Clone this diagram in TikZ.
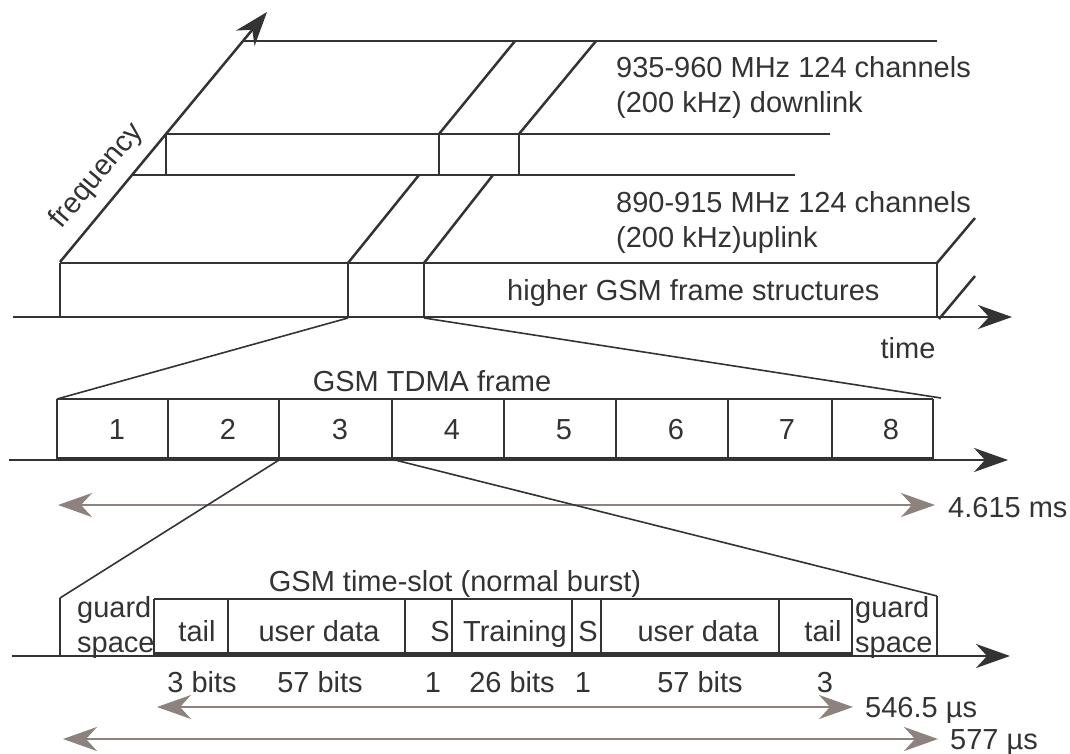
\documentclass[tikz,border=0pt]{standalone}
\usepackage{fontspec}
\setmainfont{Liberation Sans}
\usetikzlibrary{arrows.meta}
\definecolor{ink}{HTML}{333333}
\definecolor{span}{HTML}{8E827E}
\begin{document}
\begin{tikzpicture}[x=1pt,y=-1pt,
  edge/.style={draw=ink,line width=2.5pt},
  cell/.style={draw=ink,line width=2pt},
  zoomline/.style={draw=ink,line width=1.6pt},
  floor/.style={draw=ink,line width=4pt},
  axis/.style={draw=ink,line width=2.5pt,-{Stealth[length=34pt,width=24pt,inset=11pt]}},
  dim/.style={draw=span,line width=2.5pt,{Stealth[length=34pt,width=24pt,inset=11pt]}-{Stealth[length=34pt,width=24pt,inset=11pt]}},
  lbl/.style={text=ink,inner sep=0pt,font=\fontsize{29}{34}\selectfont},
]
\useasboundingbox (0,0) rectangle (1070,754);

% ---------- frequency / time plane ----------
\coordinate (f0) at (60,262);
\coordinate (f1) at (267,12);
\draw[axis] (f0) -- (f1);
\node[lbl,rotate=50] (freq) at (97,176) {frequency};

% downlink band
\coordinate (d1) at (243,41);  \coordinate (d1e) at (937,41);
\coordinate (d2) at (166,134); \coordinate (d2e) at (830,134);
\coordinate (d3) at (132,175); \coordinate (d3e) at (795,175);
\draw[edge] (d1) -- (d1e);
\draw[edge] (d2) -- (d2e);
\draw[edge] (d3) -- (d3e);
\draw[edge] (d2) -- (166,175);
\coordinate (da) at (439,134); \coordinate (db) at (519,134);
\draw[edge] (da) -- (439,175);
\draw[edge] (db) -- (519,175);
\draw[edge] (da) -- (515,41);
\draw[edge] (db) -- (596,41);

\node[lbl,anchor=base west] (dl1) at (616,78) {935-960 MHz 124 channels};
\node[lbl,anchor=base west] (dl2) at (616,113) {(200 kHz) downlink};

% uplink band
\coordinate (u1) at (60,263);  \coordinate (u1e) at (937,263);
\coordinate (ua) at (348,263); \coordinate (ub) at (424,263);
\draw[edge] (u1) -- (u1e);
\draw[edge] (u1) -- (60,317);
\draw[edge] (ua) -- (348,317);
\draw[edge] (ub) -- (424,317);
\draw[edge] (u1e) -- (937,317);
\draw[edge] (ua) -- (419,175);
\draw[edge] (ub) -- (493,175);
\draw[edge] (u1e) -- (975,218);
\draw[edge] (939,319) -- (975,276);

\node[lbl,anchor=base west] (ul1) at (616,212) {890-915 MHz 124 channels};
\node[lbl,anchor=base west] (ul2) at (616,247) {(200 kHz)uplink};
\node[lbl,anchor=base west] (higher) at (507,300) {higher GSM frame structures};

% time axis
\coordinate (t0) at (13,317);
\coordinate (t1) at (1012,317);
\draw[axis] (t0) -- (t1);
\node[lbl,anchor=base] (time) at (908,358) {time};

% ---------- TDMA frame ----------
\coordinate (fr0) at (57,399);
\coordinate (fr1) at (933,399);
\draw[zoomline] (348,318) -- (fr0);
\draw[zoomline] (424,318) -- (941,398);

\node[lbl,anchor=base] (tdma) at (432,391) {GSM TDMA frame};
\draw[cell] (fr0) -- (fr1);
\foreach \x in {57,168,279,392,504,616,728,832,933}
  \draw[cell] (\x,399) -- (\x,459);
\draw[floor] (57,459) -- (933,459);
\coordinate (fa0) at (9,460);
\coordinate (fa1) at (1008,460);
\draw[axis] (fa0) -- (fa1);

\foreach \x/\n in {117/1,228/2,340/3,452/4,564/5,676/6,787/7,891/8}
  \node[lbl,anchor=base] (slot\n) at (\x,439) {\n};

\coordinate (fd0) at (58,505);
\coordinate (fd1) at (935,505);
\draw[dim] (fd0) -- (fd1);
\node[lbl,anchor=base west] (frlen) at (948,517) {4.615 ms};

% ---------- normal burst ----------
\coordinate (b0) at (60,598);
\coordinate (b1) at (937,596);
\draw[zoomline] (279,460) -- (b0);
\draw[zoomline] (395,460) -- (b1);

\node[lbl,anchor=base] (burst) at (455,591) {GSM time-slot (normal burst)};
\draw[cell] (b0) -- (60,656);
\draw[cell] (b1) -- (937,656);
\draw[cell] (154,599) -- (852,599);
\foreach \x in {154,228,405,452,572,601,779,852}
  \draw[cell] (\x,599) -- (\x,655);
\draw[floor] (154,654) -- (852,654);
\coordinate (ba0) at (12,656);
\coordinate (ba1) at (1010,656);
\draw[axis] (ba0) -- (ba1);

\node[lbl,anchor=base west] (gl1) at (77,617) {guard};
\node[lbl,anchor=base west] (gl2) at (77,652) {space};
\node[lbl,anchor=base west] (gr1) at (855,617) {guard};
\node[lbl,anchor=base west] (gr2) at (855,652) {space};
\foreach \x/\t/\k in {197/tail/a,319/user data/b,440/S/c,515/Training/d,588/S/e,698/user data/f,823/tail/g}
  \node[lbl,anchor=base] (f\k) at (\x,641) {\t};
\foreach \x/\t/\k in {202/3 bits/a,320/57 bits/b,433/1/c,512/26 bits/d,583/1/e,700/57 bits/f,825/3/g}
  \node[lbl,anchor=base] (n\k) at (\x,692) {\t};

\coordinate (bd0) at (157,707);
\coordinate (bd1) at (853,707);
\draw[dim] (bd0) -- (bd1);
\node[lbl,anchor=base west] (bdlen) at (865,717) {546.5 µs};

\coordinate (sd0) at (63,739);
\coordinate (sd1) at (938,739);
\draw[dim] (sd0) -- (sd1);
\node[lbl,anchor=base west] (sdlen) at (950,749) {577 µs};
\end{tikzpicture}
\end{document}
